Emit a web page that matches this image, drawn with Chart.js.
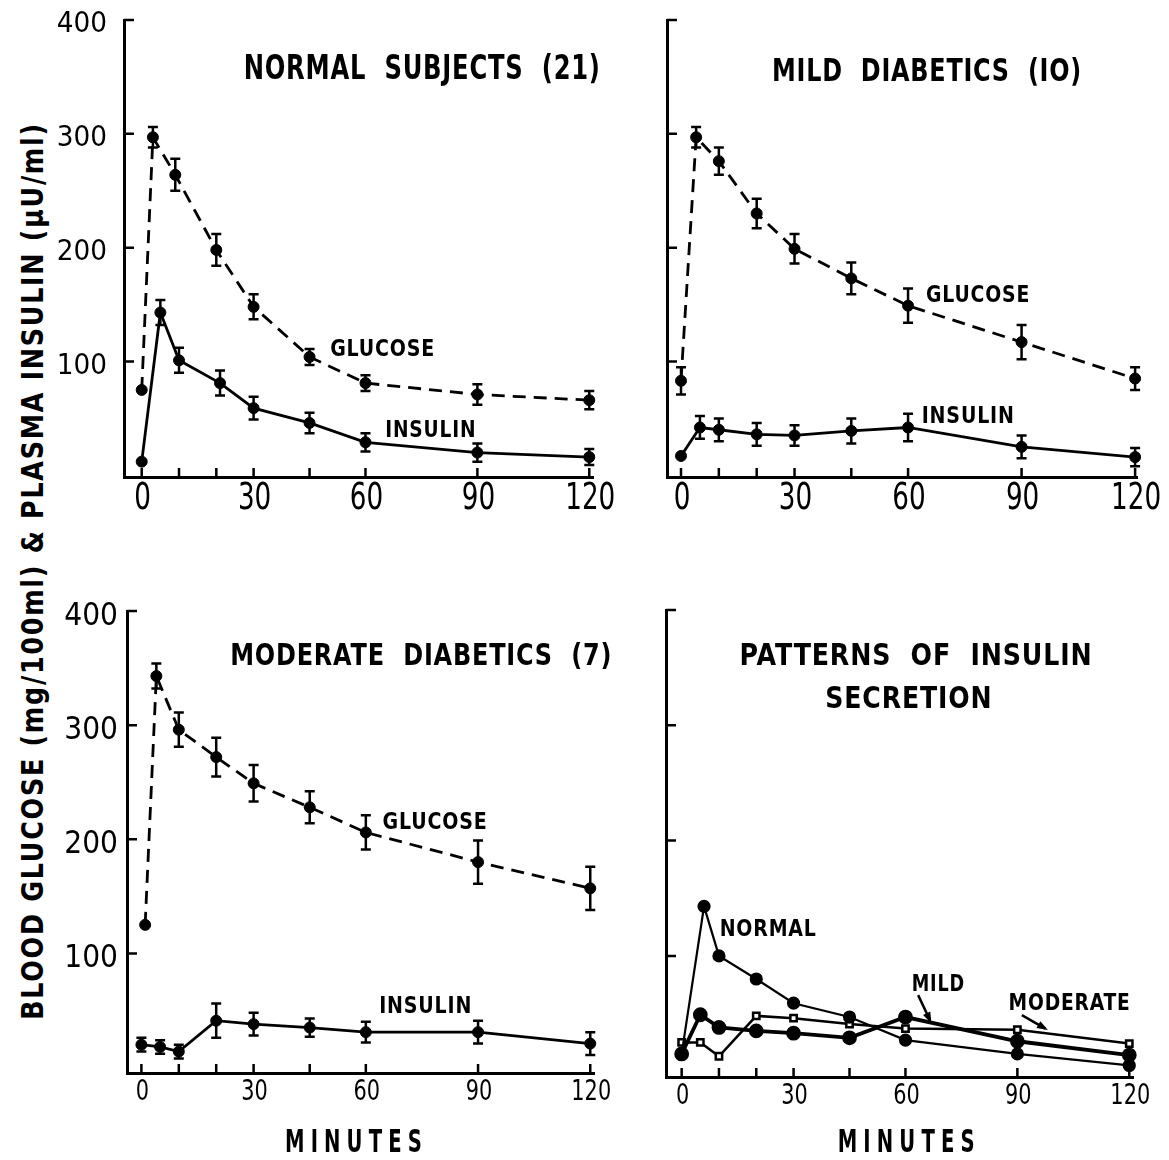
<!DOCTYPE html>
<html><head><meta charset="utf-8">
<script src="https://cdn.jsdelivr.net/npm/chart.js@4.4.1/dist/chart.umd.min.js"></script>
<style>
html,body{margin:0;padding:0;background:#fff;}
body{width:1169px;height:1160px;position:relative;overflow:hidden;}
canvas{position:absolute;}
#ytitle{position:absolute;left:32px;top:571px;white-space:nowrap;line-height:1;
 font:bold 30px 'DejaVu Sans',sans-serif;letter-spacing:2px;color:#000;transform-origin:50% 50%;}
</style></head>
<body>
<div id="ytitle">BLOOD GLUCOSE (mg/100ml) &amp; PLASMA INSULIN (μU/ml)</div>
<canvas id="c1" width="620" height="545" style="left:0;top:0"></canvas>
<canvas id="c2" width="609" height="545" style="left:560px;top:0"></canvas>
<canvas id="c3" width="620" height="600" style="left:0;top:560px"></canvas>
<canvas id="c4" width="609" height="600" style="left:560px;top:560px"></canvas>
<script>
// ===== DATA =====
const xTickValues = [0, 10, 20, 30, 45, 60, 90, 120];
const xTickLabels = [0, 30, 60, 90, 120];
const yTickValues = [100, 200, 300, 400];
const yTickLabels = [100, 200, 300, 400];

const normalGlucoseMin = [0, 3, 9, 20, 30, 45, 60, 90, 120];
const normalGlucose    = [75, 297, 264, 198, 148, 104, 81, 71, 66];
const normalGlucoseSE  = [0, 9, 14, 14, 11, 7, 7, 9, 8];
const normalInsulinMin = [0, 5, 10, 21, 30, 45, 60, 90, 120];
const normalInsulin    = [12, 143, 101, 81, 59, 46, 29, 20, 16];
const normalInsulinSE  = [0, 11, 11, 11, 10, 9, 8, 8, 7];

const mildGlucoseMin = [0, 4, 10, 20, 30, 45, 60, 90, 120];
const mildGlucose    = [83, 297, 276, 230, 199, 173, 149, 117, 85];
const mildGlucoseSE  = [12, 9, 12, 13, 13, 14, 15, 15, 10];
const mildInsulinMin = [0, 5, 10, 20, 30, 45, 60, 90, 120];
const mildInsulin    = [17, 42, 40, 36, 35, 39, 42, 25, 16];
const mildInsulinSE  = [0, 10, 10, 10, 9, 11, 12, 10, 8];

const modGlucoseMin = [1, 4, 10, 20, 30, 45, 60, 90, 120];
const modGlucose    = [125, 343, 296, 272, 249, 228, 206, 180, 157];
const modGlucoseSE  = [0, 11, 15, 17, 16, 14, 15, 19, 19];
const modInsulinMin = [0, 5, 10, 20, 30, 45, 60, 90, 120];
const modInsulin    = [20, 18, 14, 41, 38, 35, 31, 31, 21];
const modInsulinSE  = [6, 6, 6, 15, 10, 8, 9, 10, 10];

const patternNormalMin = [0, 6, 10, 20, 30, 45, 60, 90, 120];
const patternNormal    = [15, 143, 100, 80, 59, 47, 27, 15, 5];
const patternMildMin   = [0, 5, 10, 20, 30, 45, 60, 90, 120];
const patternMild      = [15, 49, 38, 35, 33, 29, 47, 26, 14];
const patternModMin    = [0, 5, 10, 20, 30, 45, 60, 90, 120];
const patternModerate  = [25, 25, 13, 48, 46, 41, 37, 36, 24];

// ===== HELPERS =====
const FAM = "'DejaVu Sans','Liberation Sans',sans-serif";
const CAP = 0.729;
const pts = (xs, ys) => xs.map((x, i) => ({x: x, y: ys[i]}));

// draw text whose caps are vertically centred at cy, horizontally scaled by sx (or fitted to width w)
function drawText(ctx, text, cx, cy, size, opt) {
  ctx.save();
  ctx.font = (opt.weight || 'normal') + ' ' + size + 'px ' + FAM;
  ctx.letterSpacing = (opt.ls || 0) + 'px';
  ctx.textAlign = opt.align || 'center';
  ctx.textBaseline = 'alphabetic';
  let sx = opt.sx || 1;
  if (opt.w) sx = opt.w / ctx.measureText(text).width;
  ctx.translate(cx, cy + size * CAP / 2);
  ctx.scale(sx, 1);
  ctx.fillText(text, 0, 0);
  ctx.restore();
}

const decor = {
  id: 'decor',
  afterDatasetsDraw(chart, args, o) {
    const ctx = chart.ctx, xs = chart.scales.x, ys = chart.scales.y, ca = chart.chartArea;
    ctx.save();
    ctx.strokeStyle = '#000'; ctx.fillStyle = '#000'; ctx.setLineDash([]);
    // error bars
    chart.data.datasets.forEach((ds) => {
      if (!ds.errorBars) return;
      ds.data.forEach((p, j) => {
        const e = ds.errorBars[j];
        if (!e) return;
        const px = xs.getPixelForValue(p.x);
        const y1 = ys.getPixelForValue(p.y + e), y2 = ys.getPixelForValue(p.y - e);
        ctx.lineWidth = 2.5;
        ctx.beginPath();
        ctx.moveTo(px, y1); ctx.lineTo(px, y2);
        ctx.moveTo(px - 5, y1); ctx.lineTo(px + 5, y1);
        ctx.moveTo(px - 5, y2); ctx.lineTo(px + 5, y2);
        ctx.stroke();
      });
    });
    // inward tick marks
    ctx.lineWidth = 2.5;
    ctx.beginPath();
    xs.ticks.forEach(t => { const px = xs.getPixelForValue(t.value); ctx.moveTo(px, ca.bottom); ctx.lineTo(px, ca.bottom - 9); });
    ys.ticks.forEach(t => { const py = ys.getPixelForValue(t.value); ctx.moveTo(ca.left, py); ctx.lineTo(ca.left + 10, py); });
    ctx.stroke();
    // tick labels (from the scales' ticks)
    xs.ticks.forEach(t => {
      if (!xTickLabels.includes(t.value)) return;
      drawText(ctx, String(t.value), xs.getPixelForValue(t.value) + 1, ca.bottom + o.xLab.dy, o.xLab.size, {sx: o.xLab.sx});
    });
    if (o.yLab) ys.ticks.forEach(t => {
      if (!yTickLabels.includes(t.value)) return;
      drawText(ctx, String(t.value), ca.left - o.yLab.gap, ys.getPixelForValue(t.value) + 2, o.yLab.size, {sx: o.yLab.sx, align: 'right'});
    });
    // arrows
    (o.arrows || []).forEach(a => {
      const x1 = xs.getPixelForValue(a.x1), y1 = ys.getPixelForValue(a.y1);
      const x2 = xs.getPixelForValue(a.x2), y2 = ys.getPixelForValue(a.y2);
      ctx.lineWidth = 2.5;
      ctx.beginPath(); ctx.moveTo(x1, y1); ctx.lineTo(x2, y2); ctx.stroke();
      const ang = Math.atan2(y2 - y1, x2 - x1);
      ctx.beginPath();
      ctx.moveTo(x2 + 3 * Math.cos(ang), y2 + 3 * Math.sin(ang));
      ctx.lineTo(x2 - 8 * Math.cos(ang) + 4 * Math.sin(ang), y2 - 8 * Math.sin(ang) - 4 * Math.cos(ang));
      ctx.lineTo(x2 - 8 * Math.cos(ang) - 4 * Math.sin(ang), y2 - 8 * Math.sin(ang) + 4 * Math.cos(ang));
      ctx.closePath(); ctx.fill();
    });
    // text labels
    (o.texts || []).forEach(t => {
      drawText(ctx, t.text, xs.getPixelForValue(t.x), ys.getPixelForValue(t.y), t.size, {weight: 'bold', w: t.w, ls: 1});
    });
    if (o.xTitle) {
      drawText(ctx, o.xTitle.text, xs.getPixelForValue(o.xTitle.x), chart.height - 20, 32, {weight: 'bold', w: 143, ls: 10});
    }
    ctx.restore();
  }
};

function glucoseDs(min, vals, se) {
  return {data: pts(min, vals), errorBars: se, borderColor: '#000', borderWidth: 2.8, borderDash: [13, 8],
    pointRadius: 5.5, pointBackgroundColor: '#000', pointBorderColor: '#000', pointBorderWidth: 1, clip: false, tension: 0};
}
function insulinDs(min, vals, se) {
  return {data: pts(min, vals), errorBars: se, borderColor: '#000', borderWidth: 2.8,
    pointRadius: 5.5, pointBackgroundColor: '#000', pointBorderColor: '#000', pointBorderWidth: 1, clip: false, tension: 0};
}

function makeChart(id, c) {
  return new Chart(document.getElementById(id), {
    type: 'line',
    data: {datasets: c.datasets},
    options: {
      responsive: false, animation: false, events: [],
      layout: {autoPadding: false, padding: c.padding},
      plugins: {legend: {display: false}, tooltip: {enabled: false}, decor: c.decor},
      scales: {
        x: {type: 'linear', min: c.xMin, max: c.xMax,
          afterBuildTicks: s => { s.ticks = xTickValues.map(v => ({value: v})); },
          afterFit: s => { s.height = c.xH; },
          grid: {display: false, drawTicks: false},
          border: {display: true, color: '#000', width: 3},
          ticks: {display: false}},
        y: {type: 'linear', min: c.yMin, max: 400,
          afterBuildTicks: s => { s.ticks = yTickValues.map(v => ({value: v})); },
          afterFit: s => { s.width = c.yW; },
          grid: {display: false, drawTicks: false},
          border: {display: true, color: '#000', width: 3},
          ticks: {display: false}}
      }
    },
    plugins: [decor]
  });
}

const topX = {dy: 18, size: 38, sx: 0.69};
const botX = {dy: 16, size: 29, sx: 0.72};

// Top-left: normal subjects
makeChart('c1', {
  datasets: [glucoseDs(normalGlucoseMin, normalGlucose, normalGlucoseSE), insulinDs(normalInsulinMin, normalInsulin, normalInsulinSE)],
  padding: {left: 0, top: 20, right: 27, bottom: 0}, xMin: -4.75, xMax: 121, yMin: -1.5, xH: 68, yW: 124,
  decor: {xLab: topX, yLab: {gap: 17, size: 28, sx: 0.94}, texts: [
    {text: 'NORMAL  SUBJECTS  (21)', x: 75.2, y: 359, size: 33, w: 357},
    {text: 'GLUCOSE', x: 64.6, y: 112, size: 23.3, w: 105},
    {text: 'INSULIN', x: 77.5, y: 41, size: 23.3, w: 91}]}
});
// Top-right: mild diabetics
makeChart('c2', {
  datasets: [glucoseDs(mildGlucoseMin, mildGlucose, mildGlucoseSE), insulinDs(mildInsulinMin, mildInsulin, mildInsulinSE)],
  padding: {left: 0, top: 20, right: 32, bottom: 0}, xMin: -3.7, xMax: 120.5, yMin: -1.5, xH: 68, yW: 107,
  decor: {xLab: topX, texts: [
    {text: 'MILD  DIABETICS  (IO)', x: 65, y: 357, size: 32, w: 310},
    {text: 'GLUCOSE', x: 78.5, y: 160, size: 23.3, w: 104},
    {text: 'INSULIN', x: 75.9, y: 53.4, size: 23.3, w: 93}]}
});
// Bottom-left: moderate diabetics
makeChart('c3', {
  datasets: [glucoseDs(modGlucoseMin, modGlucose, modGlucoseSE), insulinDs(modInsulinMin, modInsulin, modInsulinSE)],
  padding: {left: 0, top: 51, right: 26, bottom: 0}, xMin: -3.85, xMax: 121, yMin: -4.8, xH: 87, yW: 127,
  decor: {xLab: botX, yLab: {gap: 9, size: 32, sx: 0.88}, xTitle: {text: 'MINUTES', x: 57.5}, texts: [
    {text: 'MODERATE  DIABETICS  (7)', x: 74.8, y: 362, size: 30, w: 382},
    {text: 'GLUCOSE', x: 78.5, y: 216.7, size: 23.3, w: 105},
    {text: 'INSULIN', x: 76, y: 55.6, size: 23.3, w: 93}]}
});
// Bottom-right: patterns of insulin secretion
makeChart('c4', {
  datasets: [
    {data: pts(patternNormalMin, patternNormal), borderColor: '#000', borderWidth: 2.2, pointRadius: 5.5,
      pointBackgroundColor: '#000', pointBorderColor: '#000', clip: false, tension: 0},
    {data: pts(patternMildMin, patternMild), borderColor: '#000', borderWidth: 3.8, pointRadius: 5.5,
      pointBackgroundColor: '#000', pointBorderColor: '#000', clip: false, tension: 0},
    {data: pts(patternModMin, patternModerate), borderColor: '#000', borderWidth: 2.5, pointStyle: 'rect', pointRadius: 4.5,
      pointBackgroundColor: '#fff', pointBorderColor: '#000', pointBorderWidth: 2.5, clip: false, tension: 0}],
  padding: {left: 0, top: 50, right: 36, bottom: 0}, xMin: -4.2, xMax: 121, yMin: -5, xH: 83, yW: 106,
  decor: {xLab: botX, xTitle: {text: 'MINUTES', x: 61},
    arrows: [{x1: 63.4, y1: 66, x2: 66.6, y2: 44}, {x1: 91.2, y1: 48.6, x2: 97.5, y2: 37}],
    texts: [
    {text: 'PATTERNS  OF  INSULIN', x: 62.8, y: 362, size: 30, w: 353},
    {text: 'SECRETION', x: 60.9, y: 324.6, size: 30, w: 167},
    {text: 'NORMAL', x: 23.2, y: 125, size: 23.3, w: 97},
    {text: 'MILD', x: 68.8, y: 77, size: 23.3, w: 53},
    {text: 'MODERATE', x: 104, y: 60.8, size: 23.3, w: 122}]}
});

// fit the shared vertical axis title to its length in the reference
(function () {
  const el = document.getElementById('ytitle');
  const k = 898 / el.offsetWidth;
  el.style.transform = 'translate(-50%,-50%) rotate(-90deg) scaleX(' + k + ')';
})();
</script>
</body></html>
